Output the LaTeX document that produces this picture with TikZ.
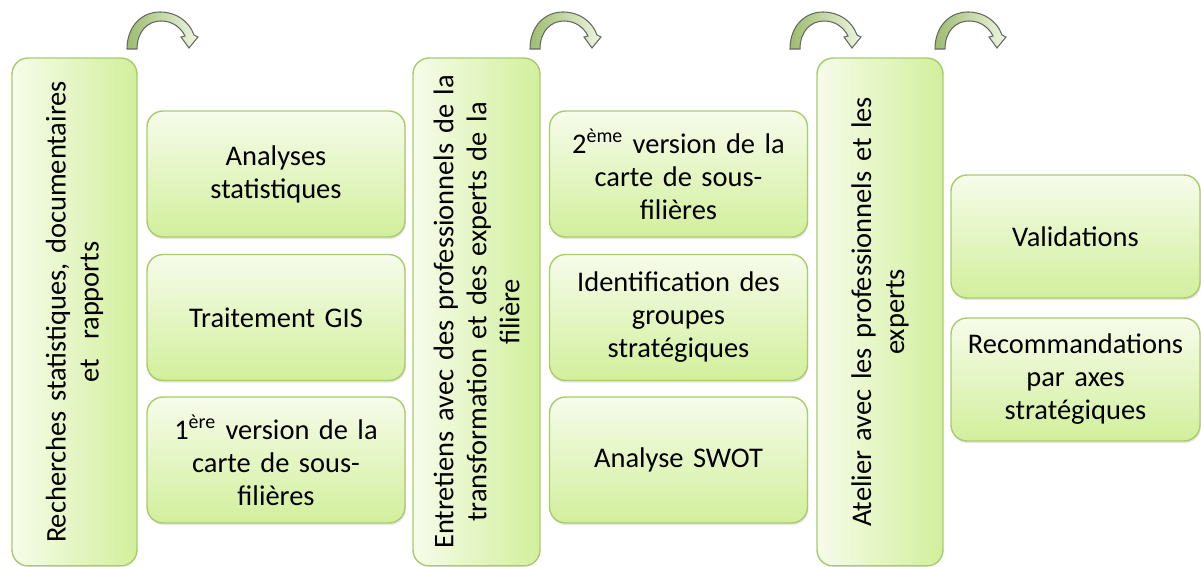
\documentclass[tikz,border=0pt]{standalone}
\usepackage{fontspec}
\setmainfont{Carlito}[WordSpace=0.7]
\usetikzlibrary{shadows}
\definecolor{boxline}{HTML}{A8CC6C}
\definecolor{boxlight}{HTML}{F6FCEA}
\definecolor{boxgreen}{HTML}{D2EF9C}
\definecolor{arrowdark}{HTML}{9DBD6E}
\definecolor{arrowlight}{HTML}{EEF5DF}
\tikzset{
    tallbox/.style={draw=boxline, line width=0.8pt, rounded corners=0.32cm,
        left color=boxlight, right color=boxgreen, rotate=90,
        minimum width=10.16cm, minimum height=2.5cm, text width=9.8cm,
        align=center, inner sep=0pt},
    smallbox/.style={draw=boxline, line width=0.8pt, rounded corners=0.32cm,
        top color=boxlight, bottom color=boxgreen,
        drop shadow={opacity=0.2, shadow xshift=0.5pt, shadow yshift=-1.2pt},
        minimum width=5.16cm, minimum height=2.52cm, text width=4.9cm,
        align=center, inner sep=0pt},
    bendarrow/.pic={
        \path [draw=black!60, line width=0.6pt, left color=arrowdark, right color=arrowlight]
            (-33,0) -- (-23,0) .. controls (-23,18) and (-12,28) .. (1,28)
            .. controls (13,28) and (21,21) .. (25,13) -- (21,12) -- (29,1)
            -- (38,12) -- (34,14) .. controls (29,28) and (16,37) .. (0,37)
            .. controls (-18,37) and (-33,23) .. (-33,0) -- cycle;
    }
}
\begin{document}
\begin{tikzpicture}[x=0.02cm, y=0.02cm, font=\fontsize{16.2}{18.8}\selectfont]
    \useasboundingbox (0,0) rectangle (1201,567);
    % curved arrows along the top
    \pic at (160,518) {bendarrow};
    \pic at (563,518) {bendarrow};
    \pic at (823,518) {bendarrow};
    \pic at (968,518) {bendarrow};
    % tall boxes
    \node [tallbox] (rech) at (74.5,255) {Recherches statistiques, documentaires\\ et ~rapports};
    \node [tallbox, minimum height=2.54cm] (entre) at (476.5,255) {Entretiens avec des professionnels de la\\ transformation et des experts de la\\ filière};
    \node [tallbox, minimum height=2.52cm] (atel) at (880,255) {Atelier avec les professionnels et les\\ experts};
    % first group
    \node [smallbox] (stat) at (276,393) {Analyses\\ statistiques};
    \node [smallbox] (gis) at (276,249.5) {Traitement GIS};
    \node [smallbox] (carte1) at (276,107) {1\textsuperscript{ère} version de la\\ carte de sous-\\ filières};
    % second group
    \node [smallbox] (carte2) at (678.5,393) {2\textsuperscript{ème} version de la\\ carte de sous-\\ filières};
    \node [smallbox] (ident) at (678.5,249.5) {Identification des\\ groupes\\ stratégiques};
    \node [smallbox] (swot) at (678.5,107) {Analyse SWOT};
    % third group
    \node [smallbox, minimum width=4.98cm, minimum height=2.46cm] (valid) at (1075.5,330.5) {Validations};
    \node [smallbox, minimum width=4.98cm, minimum height=2.46cm] (recom) at (1075.5,187.5) {Recommandations\\ par axes\\ stratégiques};
\end{tikzpicture}
\end{document}
